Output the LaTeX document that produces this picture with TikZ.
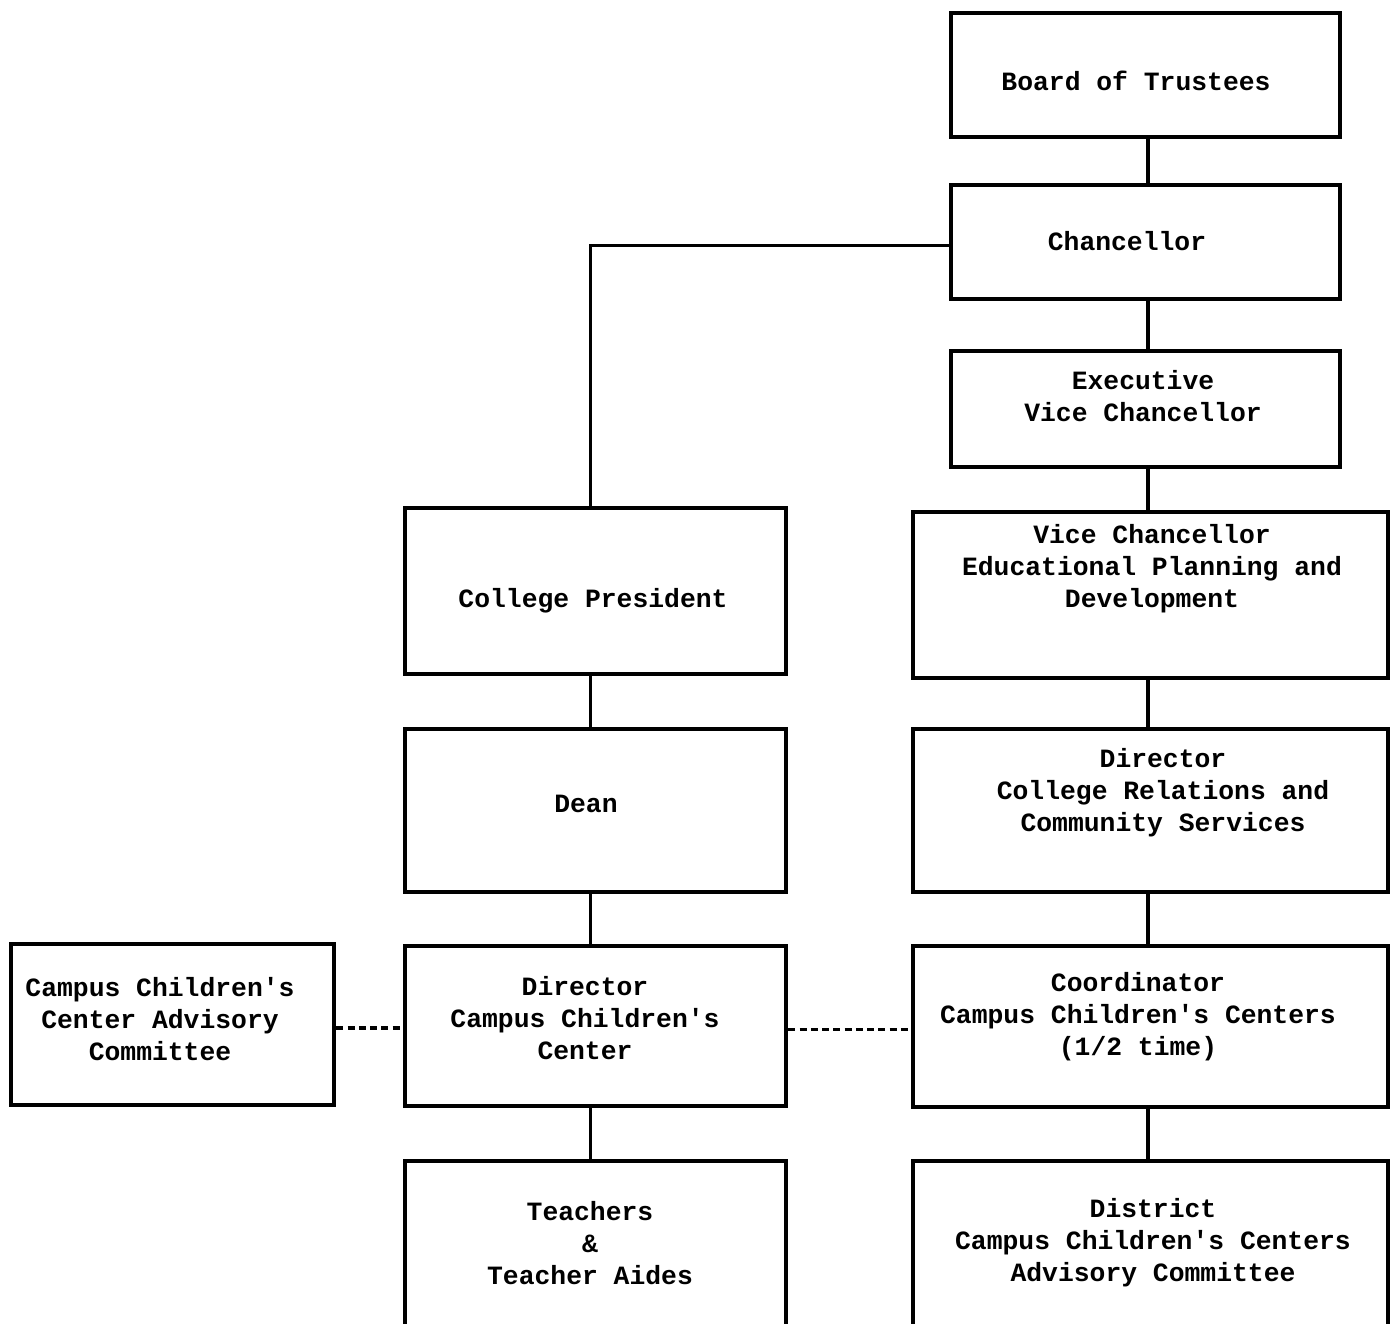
\documentclass[tikz,border=0pt]{standalone}
\usepackage{fontspec}
\setmonofont{Liberation Mono}
\usepackage{tikz}

\tikzset{
  box/.style={draw, line width=1.3pt, rectangle, inner sep=0pt},
  lbl/.style={font=\ttfamily\bfseries\fontsize{7.5}{9.1}\selectfont, align=center, inner sep=0pt},
  link/.style={line width=0.9pt},
  dotlink/.style={line width=0.9pt, dash pattern=on 2pt off 1.2pt}
}

\begin{document}
\begin{tikzpicture}[x=0.01cm, y=-0.01cm]
  \useasboundingbox (0,0) rectangle (1393,1324);

  % right column
  \node[box, minimum width=3.89cm, minimum height=1.24cm] (bot) at (1145.5,75) {};
  \node[box, minimum width=3.89cm, minimum height=1.14cm] (chan) at (1145.5,242) {};
  \node[box, minimum width=3.89cm, minimum height=1.16cm] (evc) at (1145.5,409) {};
  \node[box, minimum width=4.75cm, minimum height=1.66cm] (vcep) at (1150.5,595) {};
  \node[box, minimum width=4.75cm, minimum height=1.63cm] (dcr) at (1150.5,810.5) {};
  \node[box, minimum width=4.75cm, minimum height=1.61cm] (coord) at (1150.5,1026.5) {};
  \node[box, minimum width=4.75cm, minimum height=1.89cm] (dist) at (1150.5,1255.5) {};

  % middle column
  \node[box, minimum width=3.81cm, minimum height=1.66cm] (pres) at (595.5,591) {};
  \node[box, minimum width=3.81cm, minimum height=1.63cm] (dean) at (595.5,810.5) {};
  \node[box, minimum width=3.81cm, minimum height=1.60cm] (dccc) at (595.5,1026) {};
  \node[box, minimum width=3.81cm, minimum height=1.89cm] (teach) at (595.5,1255.5) {};

  % left
  \node[box, minimum width=3.23cm, minimum height=1.61cm] (adv) at (172.5,1024.5) {};

  % texts
  \node[lbl] at (1136,81) {Board of Trustees};
  \node[lbl] at (1127,241) {Chancellor};
  \node[lbl] at (1143,396) {Executive\\Vice Chancellor};
  \node[lbl] at (1152,569) {Vice Chancellor\\Educational Planning and\\Development};
  \node[lbl] at (1163,793) {Director\\College Relations and\\Community Services};
  \node[lbl] at (1138,1017) {Coordinator\\Campus Children's Centers\\(1/2 time)};
  \node[lbl] at (1153,1243) {District\\Campus Children's Centers\\Advisory Committee};
  \node[lbl] at (593,601) {College President};
  \node[lbl] at (586,804) {Dean};
  \node[lbl] at (585,1018) {Director\\Campus Children's\\Center};
  \node[lbl] at (590,1243) {Teachers\\\&\\Teacher Aides};
  \node[lbl] at (160,1019) {Campus Children's\\Center Advisory\\Committee};

  % lines
  \draw[link] ([xshift=0.7pt]bot.south) -- ([xshift=0.7pt]chan.north);
  \draw[link] ([xshift=0.7pt]chan.south) -- ([xshift=0.7pt]evc.north);
  \draw[link] ([xshift=0.7pt]evc.south) -- ([xshift=0.7pt]evc.south |- vcep.north);
  \draw[link] ([xshift=-0.7pt]vcep.south) -- ([xshift=-0.7pt]dcr.north);
  \draw[link] ([xshift=-0.7pt]dcr.south) -- ([xshift=-0.7pt]coord.north);
  \draw[link] ([xshift=-0.7pt]coord.south) -- ([xshift=-0.7pt]dist.north);
  \draw[link] ([yshift=-1pt]chan.west) -| ([xshift=-1.5pt]pres.north);
  \draw[link] ([xshift=-1.5pt]pres.south) -- ([xshift=-1.5pt]dean.north);
  \draw[link] ([xshift=-1.5pt]dean.south) -- ([xshift=-1.5pt]dccc.north);
  \draw[link] ([xshift=-1.5pt]dccc.south) -- ([xshift=-1.5pt]teach.north);
  \draw[dotlink] ([yshift=-1pt]adv.east) -- ([yshift=-1pt]adv.east -| dccc.west);
  \draw[dotlink] ([yshift=-1pt]dccc.east) -- ([yshift=-1pt]dccc.east -| coord.west);
\end{tikzpicture}
\end{document}
